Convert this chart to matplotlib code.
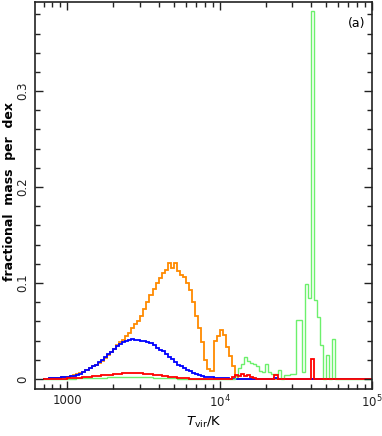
import numpy as np
import matplotlib
matplotlib.use("Agg")
from matplotlib import pyplot as plt
from matplotlib.ticker import FixedLocator, NullFormatter, MultipleLocator

# log10(T) bin grid, 0.02 dex wide, 2.84 .. 5.00
log_lo = 2.84
log_hi = 5.00
nbins = 108

orange = [0.0, 0.0, 0.0005, 0.0005, 0.001, 0.001, 0.0015, 0.002, 0.0025, 0.003,
          0.004, 0.005, 0.006, 0.0075, 0.009, 0.011, 0.013, 0.015, 0.017, 0.019,
          0.022, 0.025, 0.028, 0.031, 0.035, 0.038, 0.041, 0.045, 0.048, 0.053,
          0.057, 0.060, 0.066, 0.073, 0.080, 0.087, 0.094, 0.100, 0.105, 0.110,
          0.114, 0.121, 0.116, 0.121, 0.113, 0.108, 0.106, 0.100, 0.093, 0.080,
          0.066, 0.053, 0.038, 0.020, 0.010, 0.008, 0.040, 0.045, 0.051, 0.046,
          0.033, 0.024, 0.013, 0.003, 0.0, 0.0, 0.0, 0.0, 0.0, 0.0,
          0.0, 0.0, 0.0, 0.0, 0.0, 0.0, 0.0, 0.0, 0.0, 0.0,
          0.0, 0.0, 0.0, 0.0, 0.0, 0.0, 0.0, 0.0, 0.0, 0.0,
          0.0, 0.0, 0.0, 0.0, 0.0, 0.0, 0.0, 0.0, 0.0, 0.0,
          0.0, 0.0, 0.0, 0.0, 0.0, 0.0, 0.0, 0.0]

blue = [0.0, 0.0003, 0.0005, 0.0007, 0.001, 0.0012, 0.0015, 0.002, 0.0025, 0.003,
        0.0035, 0.0045, 0.0055, 0.007, 0.009, 0.011, 0.013, 0.015, 0.018, 0.020,
        0.023, 0.026, 0.028, 0.031, 0.034, 0.036, 0.038, 0.040, 0.041, 0.042,
        0.041, 0.041, 0.040, 0.040, 0.039, 0.037, 0.035, 0.032, 0.030, 0.029,
        0.026, 0.023, 0.021, 0.018, 0.015, 0.013, 0.011, 0.009, 0.008, 0.006,
        0.005, 0.004, 0.003, 0.0025, 0.002, 0.0015, 0.001, 0.001, 0.0008, 0.0006,
        0.0005, 0.0004, 0.0003, 0.0002, 0.0001, 0.0001, 0.0, 0.0, 0.0, 0.0,
        0.0, 0.0, 0.0, 0.0, 0.0, 0.0, 0.001, 0.0, 0.0, 0.0,
        0.0, 0.0, 0.0, 0.0, 0.0, 0.0, 0.0, 0.0, 0.0, 0.0,
        0.0, 0.0, 0.0, 0.0, 0.0, 0.0, 0.0, 0.0, 0.0, 0.0,
        0.0, 0.0, 0.0, 0.0, 0.0, 0.0, 0.0, 0.0]

red = [0.0, 0.0, 0.0, 0.0, 0.0, 0.0002, 0.0003, 0.0004, 0.0005, 0.0007,
       0.0009, 0.0011, 0.0014, 0.0017, 0.002, 0.0023, 0.0026, 0.003, 0.0033, 0.0036,
       0.004, 0.0043, 0.0046, 0.0049, 0.0052, 0.0055, 0.0057, 0.0058, 0.006, 0.0062,
       0.0061, 0.006, 0.0058, 0.0056, 0.0053, 0.005, 0.0046, 0.0042, 0.0038, 0.0033,
       0.0028, 0.0024, 0.002, 0.0016, 0.0013, 0.001, 0.0008, 0.0006, 0.0004, 0.0003,
       0.0002, 0.0001, 0.0, 0.0, 0.0, 0.0, 0.0, 0.0, 0.0, 0.0,
       0.0, 0.0, 0.002, 0.004, 0.003, 0.005, 0.003, 0.004, 0.002, 0.001,
       0.0, 0.0, 0.0, 0.0, 0.0, 0.0, 0.004, 0.0, 0.0, 0.0,
       0.0, 0.0, 0.0, 0.0, 0.0, 0.0, 0.0, 0.0, 0.021, 0.0,
       0.0, 0.0, 0.0, 0.0, 0.0, 0.0, 0.0, 0.0, 0.0, 0.0,
       0.0, 0.0, 0.0, 0.0, 0.0, 0.0, 0.0, 0.0]

green = [0.0, 0.0, 0.0, 0.0, 0.0, 0.0001, 0.0002, 0.0002, 0.0003, 0.0003,
         0.0004, 0.0005, 0.0006, 0.0007, 0.0008, 0.0009, 0.001, 0.0011, 0.0012, 0.0013,
         0.0014, 0.0015, 0.0016, 0.0017, 0.0018, 0.0019, 0.0019, 0.002, 0.002, 0.002,
         0.002, 0.0019, 0.0018, 0.0017, 0.0016, 0.0015, 0.0013, 0.0012, 0.001, 0.0009,
         0.0008, 0.0007, 0.0006, 0.0005, 0.0004, 0.0003, 0.0003, 0.0002, 0.0002, 0.0001,
         0.0001, 0.0, 0.0, 0.0, 0.0, 0.0, 0.0, 0.0, 0.0, 0.0,
         0.0, 0.0, 0.0, 0.003, 0.011, 0.016, 0.023, 0.019, 0.017, 0.016,
         0.013, 0.008, 0.007, 0.016, 0.007, 0.005, 0.005, 0.009, 0.0, 0.004,
         0.004, 0.005, 0.005, 0.061, 0.061, 0.007, 0.099, 0.084, 0.383, 0.082,
         0.065, 0.035, 0.0, 0.025, 0.0, 0.042, 0.0, 0.0, 0.0, 0.0,
         0.0, 0.0, 0.0, 0.0, 0.0, 0.0, 0.0, 0.0]

for s in (orange, blue, red, green):
    assert len(s) == nbins, len(s)

edges = 10 ** np.linspace(log_lo, log_hi, nbins + 1)

fig = plt.figure(figsize=(3.82, 4.36), dpi=100)
ax = fig.add_axes([0.092, 0.108, 0.882, 0.887])

ax.stairs(orange, edges, color="#ff8a00", lw=1.3)
ax.stairs(blue, edges, color="#0000ff", lw=1.3)
ax.stairs(green, edges, color="#6cf06c", lw=1.0)
ax.stairs(red, edges, color="#ff0000", lw=1.3)

ax.set_xscale("log")
ax.set_xlim(10 ** 2.79, 1e5)
ax.set_ylim(-0.0104, 0.3927)

# ticks
ax.xaxis.set_major_locator(FixedLocator([1e3, 1e4, 1e5]))
minors = [m * 10 ** d for d in (2, 3, 4) for m in range(2, 10)]
ax.xaxis.set_minor_locator(FixedLocator(minors))
ax.xaxis.set_minor_formatter(NullFormatter())
ax.set_xticklabels(["1000", r"$10^4$", r"$10^5$"])
ax.yaxis.set_major_locator(FixedLocator([0, 0.1, 0.2, 0.3]))
ax.yaxis.set_minor_locator(MultipleLocator(0.02))
ax.set_yticklabels(["0", "0.1", "0.2", "0.3"])

ax.tick_params(which="both", direction="in", top=True, right=True, colors="#222222",
               labelsize=8.5, width=1.0)
ax.tick_params(which="major", length=6)
ax.tick_params(which="minor", length=3.5)
ax.tick_params(axis="y", labelrotation=90, pad=4)
for lab in ax.get_yticklabels():
    lab.set_va("center")
for sp in ax.spines.values():
    sp.set_linewidth(1.2)
    sp.set_color("#222222")

ax.set_xlabel(r"$T_{\rm vir}$/K", fontsize=9.5, labelpad=3)
# y label placed by hand so it stays inside the figure
fig.text(0.024, 0.56, "fractional  mass  per  dex", rotation=90, ha="center", va="center",
         fontsize=9, fontweight="bold")
ax.text(0.955, 0.945, "(a)", transform=ax.transAxes, ha="center", va="center", fontsize=9)

fig.savefig("out.png", dpi=100)
